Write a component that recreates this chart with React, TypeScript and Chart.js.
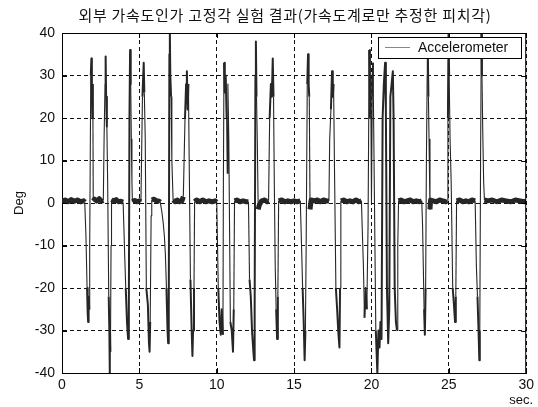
import React, { useEffect, useRef } from "react";
import { Chart, registerables } from "chart.js";

Chart.register(...registerables);

const titleText = "외부 가속도인가 고정각 실험 결과(가속도계로만 추정한 피치각)";
const seriesLabel = "Accelerometer";
const yAxisLabel = "Deg";
const xAxisLabel = "sec.";
const xTicks = [0, 5, 10, 15, 20, 25, 30];
const yTicks = [-40, -30, -20, -10, 0, 10, 20, 30, 40];

// time (s) of each vertex
const timeSec = [
  0, 0.2, 0.4, 0.6, 0.8, 1.0, 1.2, 1.4,
  1.47, 1.55, 1.62, 1.66, 1.69, 1.72, 1.76, 1.79, 1.86, 1.9, 1.93, 1.96, 1.99, 2.02,
  2.1, 2.25, 2.4, 2.55, 2.67,
  2.72, 2.78, 2.82, 2.85, 2.9, 2.95, 3.02, 3.06, 3.08, 3.1, 3.13, 3.17, 3.2,
  3.35, 3.5, 3.65, 3.8, 3.95,
  4.05, 4.12, 4.2, 4.27, 4.32, 4.36, 4.4, 4.44, 4.48, 4.52, 4.55,
  4.7, 4.85, 5.0,
  5.1, 5.2, 5.28, 5.32, 5.38, 5.45, 5.55, 5.62, 5.66, 5.7, 5.76, 5.8,
  5.95, 6.1, 6.25, 6.35,
  6.45, 6.55, 6.62, 6.68, 6.75, 6.82, 6.86, 6.9, 6.94, 6.97, 7.0, 7.05, 7.1, 7.18,
  7.3, 7.45, 7.6, 7.75,
  7.84, 7.95, 8.02, 8.07, 8.12, 8.17, 8.22, 8.3, 8.38, 8.43, 8.47, 8.53, 8.57,
  8.7, 8.9, 9.1, 9.3, 9.5, 9.7, 9.9,
  10.0, 10.1, 10.18, 10.26, 10.32, 10.4, 10.43, 10.47, 10.52, 10.58, 10.64, 10.68, 10.72, 10.78, 10.88, 10.97, 11.05, 11.1, 11.15,
  11.3, 11.5, 11.7, 11.9, 12.05,
  12.12, 12.2, 12.28, 12.35, 12.41, 12.45, 12.5, 12.53, 12.57, 12.62, 12.68, 12.75,
  12.9, 13.1, 13.25, 13.35,
  13.42, 13.5, 13.56, 13.62, 13.67, 13.72, 13.78, 13.84, 13.9, 13.95, 14.0,
  14.2, 14.4, 14.6, 14.8, 15.0, 15.2, 15.4,
  15.48, 15.55, 15.62, 15.68, 15.73, 15.78, 15.85, 15.9, 15.94, 15.98, 16.03, 16.1,
  16.3, 16.5, 16.7, 16.9, 17.1, 17.25,
  17.3, 17.38, 17.45, 17.5, 17.55, 17.62, 17.7, 17.78, 17.85, 17.93, 17.97, 18.02,
  18.2, 18.4, 18.6, 18.8, 19.0, 19.2, 19.35,
  19.42, 19.48, 19.55, 19.62, 19.7, 19.78, 19.85, 19.9, 19.95, 20.0, 20.05, 20.1, 20.18, 20.28, 20.38, 20.45, 20.52, 20.58, 20.65,
  20.72, 20.8, 20.88, 20.93, 21.0, 21.08, 21.15, 21.22, 21.3, 21.38, 21.43, 21.5, 21.58, 21.65, 21.7, 21.75,
  21.9, 22.1, 22.3, 22.5, 22.7, 22.9, 23.1, 23.25,
  23.3, 23.35, 23.4, 23.45, 23.5, 23.55, 23.6, 23.64, 23.68, 23.72, 23.78, 23.82,
  24.0, 24.2, 24.4, 24.6, 24.8, 24.9,
  24.94, 24.98, 25.02, 25.08, 25.15, 25.25, 25.33, 25.4, 25.45, 25.5,
  25.7, 25.9, 26.1, 26.3, 26.5, 26.7,
  26.78, 26.85, 26.92, 26.97, 27.0, 27.05, 27.1, 27.14, 27.2, 27.25, 27.3,
  27.5, 27.8, 28.1, 28.4, 28.7, 29.0, 29.3, 29.6, 29.9, 30.0,
];

// pitch angle (deg) at each vertex
const pitchDeg = [
  0.4, 0.7, 0.3, 0.8, 0.4, 0.7, 0.3, 0.5,
  0.2, -8, -20, -26, -28, -22, -25, -10, 30, 34, 25, 20, 28, 0.5,
  0.9, 0.5, 1.0, 0.4, 0.6,
  15, 28, 34.5, 25, 18, 5, -22, -30, -40, -28, -35, -10, 0.8,
  0.5, 0.8, 0.3, 0.4, 0.2,
  -12, -20, -28, -32, -25, 20, 36, 28, 15, 5, 0.3,
  0.6, 0.3, 0.5,
  0.3, 25, 33, 26, 15, -20, -24, -33, -35, -28, -3, 0.7,
  0.9, 0.5, 0.5, 0.2,
  -2, -5, -8, -12, -20, -30, -33, -25, 35, 40, 30, 25, 10, 0.7,
  0.3, 0.7, 0.3, 0.5,
  1.5, 20, 28, 31, 22, 28, 10, -18, -30, -36, -30, -20, 0.3,
  0.7, 0.3, 0.7, 0.3, 0.5, 0.3, 0.5,
  0.2, -20, -28, -31, -25, -31, 5, 33, 26, 30, 20, 7, 28, 15, -28, -30, -35, -25, 0.5,
  0.7, 0.3, 0.5, 0.3, 0.3,
  -18, -22, -30, -34, -37, -25, 30, 38, 25, 15, -1.5, -0.5,
  0.5, 0.7, 0.3, 0.5,
  20, 28, 25, 34, 25, 5, -15, -25, -32, -22, 0.5,
  0.7, 0.3, 0.5, 0.3, 0.5, 0.3, 0.5,
  -10, -20, -28, -37, -30, -10, 28, 35, 28, 25, -1.5, 0.7,
  0.5, 0.7, 0.3, 0.7, 0.5, 0.5,
  15, 22, 31, 25, 28, 5, -20, -25, -30, -34, -20, 0.5,
  0.7, 0.3, 0.5, 0.3, 0.7, 0.3, 0.5,
  -8, -15, -27, -20, -25, -5, 36, 20, 30, 0, 25, 33, 5, -30, -40, -30, -34, -28, -32,
  20, 28, 33, 22, -20, -33, -25, 25, 28, 31, 20, -20, -28, -30, -10, 0.5,
  0.7, 0.3, 0.5, 0.7, 0.3, 0.5, 0.3, 0.5,
  -5, -15, -25, -31, -20, 10, 30, 36, 25, 15, -1.5, 0.7,
  0.5, 0.3, 0.7, 0.5, 0.3, 0.5,
  20, 40, 30, 15, 5, -20, -24, -28, -22, 0.5,
  0.7, 0.3, 0.5, 0.3, 0.7, 0.5,
  -15, -22, -30, -37, -30, 10, 40, 30, 15, 5, 0.7,
  0.5, 0.7, 0.3, 0.7, 0.5, 0.3, 0.7, 0.5, 0.3, 0.5,
];

const FONT = '"Liberation Sans", Arial, Helvetica, sans-serif';

const decorPlugin = {
  id: "decor",
  afterDatasetsDraw(chart: any) {
    const { ctx, chartArea: a, scales } = chart;
    const xs = scales.x;
    const ys = scales.y;
    ctx.save();
    ctx.strokeStyle = "#000";
    ctx.lineWidth = 1;
    ctx.setLineDash([]);
    // box top and right
    ctx.beginPath();
    ctx.moveTo(a.left, a.top + 0.5);
    ctx.lineTo(a.right, a.top + 0.5);
    ctx.moveTo(a.right - 0.5, a.top);
    ctx.lineTo(a.right - 0.5, a.bottom);
    ctx.stroke();
    // inward tick marks
    const tl = 5;
    ctx.beginPath();
    xTicks.forEach((v) => {
      const px = Math.round(xs.getPixelForValue(v)) + 0.5;
      ctx.moveTo(px, a.bottom);
      ctx.lineTo(px, a.bottom - tl);
      ctx.moveTo(px, a.top);
      ctx.lineTo(px, a.top + tl);
    });
    yTicks.forEach((v) => {
      const py = Math.round(ys.getPixelForValue(v)) + 0.5;
      ctx.moveTo(a.left, py);
      ctx.lineTo(a.left + tl, py);
      ctx.moveTo(a.right, py);
      ctx.lineTo(a.right - tl, py);
    });
    ctx.stroke();

    // legend box
    const lx = 378.5, ly = 37.5, lw = 143, lh = 21;
    ctx.fillStyle = "#fff";
    ctx.fillRect(lx, ly, lw, lh);
    ctx.strokeRect(lx, ly, lw, lh);
    ctx.strokeStyle = "#888";
    ctx.beginPath();
    ctx.moveTo(385, 47.5);
    ctx.lineTo(410, 47.5);
    ctx.stroke();
    ctx.fillStyle = "#111";
    ctx.font = `14px ${FONT}`;
    ctx.textAlign = "left";
    ctx.textBaseline = "middle";
    ctx.fillText(seriesLabel, 418, 48);

    // title
    ctx.font = '15px "Noto Sans CJK KR", sans-serif';
    (ctx as any).letterSpacing = "0.7px";
    ctx.textAlign = "center";
    ctx.fillStyle = "#111";
    ctx.fillText(titleText, 285, 15);
    (ctx as any).letterSpacing = "0px";

    // axis labels
    ctx.font = `13px ${FONT}`;
    ctx.textAlign = "right";
    ctx.fillText(xAxisLabel, 533, 400);
    ctx.save();
    ctx.translate(19, 203);
    ctx.rotate(-Math.PI / 2);
    ctx.textAlign = "center";
    ctx.fillText(yAxisLabel, 0, 0);
    ctx.restore();
    ctx.restore();
  },
};

export default function App() {
  const ref = useRef<HTMLCanvasElement | null>(null);
  useEffect(() => {
    if (!ref.current) return;
    const points = timeSec.map((t, i) => ({ x: t, y: pitchDeg[i] }));
    const chart = new Chart(ref.current, {
      type: "line",
      data: {
        datasets: [
          {
            label: seriesLabel,
            data: points,
            borderColor: "#262626",
            borderWidth: 1,
            borderJoinStyle: "round",
            pointRadius: 0,
            tension: 0,
            segment: {
              borderWidth: (c: any) => {
                const a = Math.abs(c.p0.parsed.y);
                const b = Math.abs(c.p1.parsed.y);
                if (a < 2 && b < 2) return 5;
                if (a >= 18 && b >= 18) return 2;
                return 1.1;
              },
            },
          },
        ],
      },
      options: {
        animation: false,
        responsive: false,
        layout: { padding: { top: 33, right: 8, left: 0, bottom: 0 } },
        plugins: { legend: { display: false }, tooltip: { enabled: false }, title: { display: false } },
        scales: {
          x: {
            type: "linear",
            min: 0,
            max: 30,
            afterBuildTicks: (s: any) => {
              s.ticks = xTicks.map((v) => ({ value: v }));
            },
            afterFit: (s: any) => {
              s.height = 34;
            },
            ticks: { color: "#111", font: { family: FONT, size: 14 }, padding: 4, maxRotation: 0 },
            grid: { color: "#111", lineWidth: 1, drawTicks: false },
            border: { display: true, color: "#000", width: 1, dash: [4, 3] },
          },
          y: {
            type: "linear",
            min: -40,
            max: 40,
            afterBuildTicks: (s: any) => {
              s.ticks = yTicks.map((v) => ({ value: v }));
            },
            afterFit: (s: any) => {
              s.width = 62;
            },
            ticks: { color: "#111", font: { family: FONT, size: 14 }, padding: 7 },
            grid: { color: "#111", lineWidth: 1, drawTicks: false },
            border: { display: true, color: "#000", width: 1, dash: [4, 3] },
          },
        },
      },
      plugins: [decorPlugin],
    });
    return () => chart.destroy();
  }, []);
  return (
    <div style={{ position: "fixed", left: 0, top: 0, width: 538, height: 407, background: "#fff" }}>
      <canvas ref={ref} width={538} height={407} />
    </div>
  );
}
